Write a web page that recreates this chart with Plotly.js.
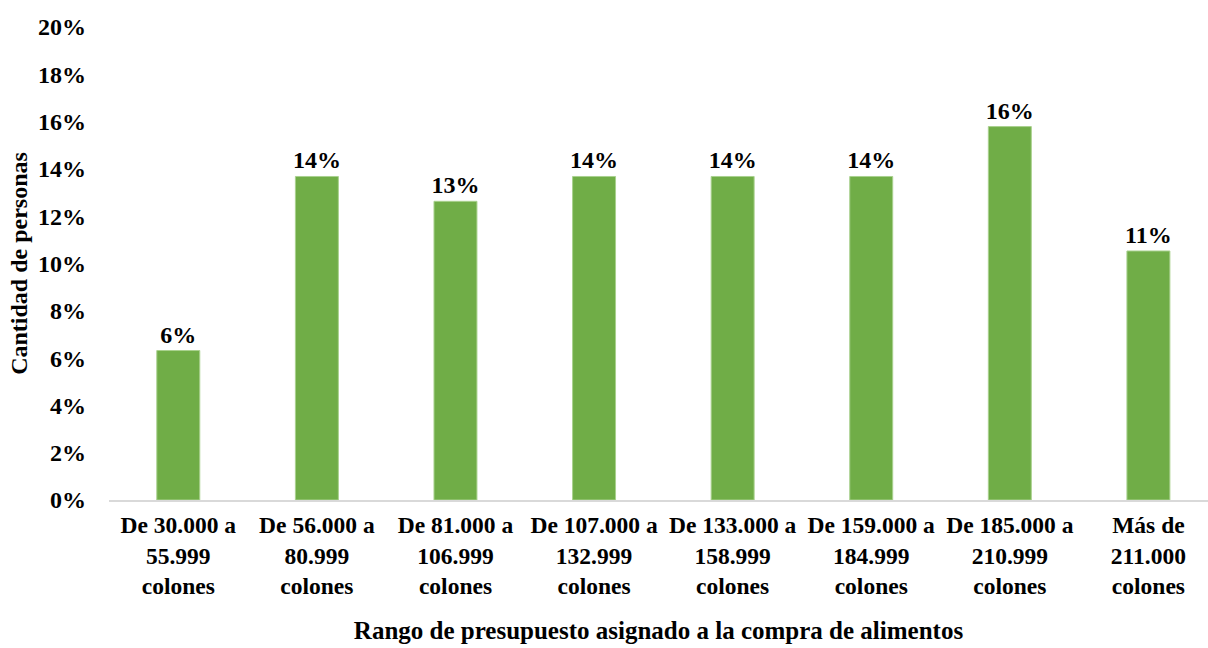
<!DOCTYPE html>
<html>
<head>
<meta charset="utf-8">
<script src="https://cdn.plot.ly/plotly-3.0.1.min.js"></script>
<style>html,body{margin:0;padding:0;background:#fff;}#chart{width:1208px;height:648px;}</style>
</head>
<body>
<div id="chart"></div>
<script>
const categories = [
  "De 30.000 a<br>55.999<br>colones",
  "De 56.000 a<br>80.999<br>colones",
  "De 81.000 a<br>106.999<br>colones",
  "De 107.000 a<br>132.999<br>colones",
  "De 133.000 a<br>158.999<br>colones",
  "De 159.000 a<br>184.999<br>colones",
  "De 185.000 a<br>210.999<br>colones",
  "Más de<br>211.000<br>colones"
];
const percentages = [6.32, 13.68, 12.63, 13.68, 13.68, 13.68, 15.79, 10.53];
const yTickValues = [0, 2, 4, 6, 8, 10, 12, 14, 16, 18, 20];

const FAM = "'Liberation Serif', 'Times New Roman', serif";
const font = {family: FAM, size: 24, color: "#000", weight: "bold"};
const xTickFont = {family: FAM, size: 23.5, color: "#000", weight: "bold"};
const xTitleFont = {family: FAM, size: 25, color: "#000", weight: "bold"};

const trace = {
  type: "bar",
  x: categories,
  y: percentages,
  width: 0.31,
  marker: {color: "#70AD47", line: {color: "#A9D18E", width: 1}},
  texttemplate: "%{y:.0f}%",
  textposition: "outside",
  constraintext: "none",
  textfont: font,
  cliponaxis: false,
  hoverinfo: "skip"
};

const layout = {
  width: 1208, height: 648,
  margin: {l: 109, r: 0, t: 27, b: 148},
  paper_bgcolor: "#fff", plot_bgcolor: "#fff",
  font: font,
  showlegend: false,
  xaxis: {
    range: [-0.5, 7.43],
    showline: true, linecolor: "#D9D9D9", linewidth: 2,
    showgrid: false, zeroline: false,
    ticks: "", tickfont: xTickFont,
    ticklabelstandoff: 3,
    title: {text: "Rango de presupuesto asignado a la compra de alimentos", font: xTitleFont, standoff: 23}
  },
  yaxis: {
    range: [0, 20],
    tickvals: yTickValues,
    ticktext: yTickValues.map(v => v + "%"),
    showline: false, showgrid: false, zeroline: false,
    ticks: "", ticklabelstandoff: 22,
    tickfont: font,
    title: {text: "Cantidad de personas", font: font, standoff: 3}
  }
};

Plotly.newPlot("chart", [trace], layout, {displayModeBar: false, staticPlot: true});
</script>
</body>
</html>
